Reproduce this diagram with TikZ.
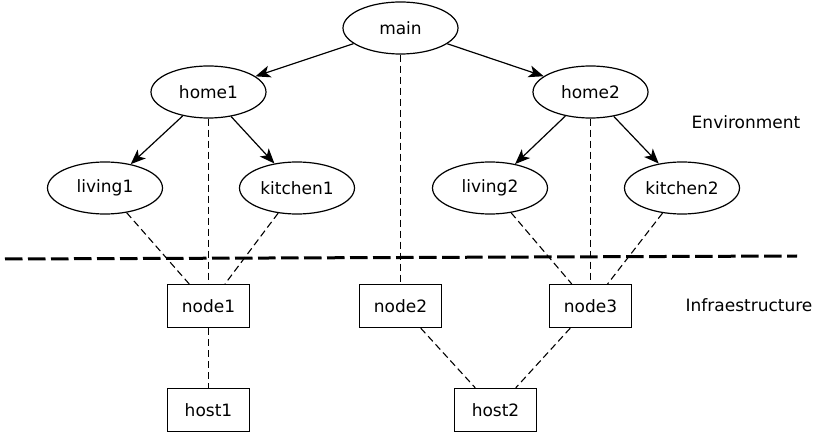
\documentclass[tikz,border=0pt]{standalone}
\usepackage{fontspec}
\setmainfont{DejaVu Sans}
\usetikzlibrary{arrows.meta,shapes.geometric}
\begin{document}
\begin{tikzpicture}[x=1pt,y=-1pt,
  every node/.style={font=\fontsize{17}{20}\selectfont},
  env/.style={draw,ellipse,line width=1.2pt,minimum width=115pt,minimum height=52pt,inner sep=0pt},
  infra/.style={draw,rectangle,line width=1.2pt,minimum width=82pt,minimum height=43pt,inner sep=0pt},
  owns/.style={line width=1.2pt,-{Stealth[length=15pt,width=12pt,inset=4pt]}},
  maps/.style={line width=1.1pt,dash pattern=on 7pt off 4pt},
  layer/.style={line width=3pt,dash pattern=on 17.5pt off 5.5pt}]
\useasboundingbox (0,0) rectangle (818,435);
% environment tree
\node[env] (main) at (400.5,28) {main};
\node[env] (home1) at (208.5,92) {home1};
\node[env] (home2) at (590.5,92) {home2};
\node[env] (living1) at (105,188) {living1};
\node[env] (kitchen1) at (297,188) {kitchen1};
\node[env] (living2) at (490,188) {living2};
\node[env] (kitchen2) at (682,188) {kitchen2};
% infrastructure
\node[infra] (node1) at (208.5,306) {node1};
\node[infra] (node2) at (400.5,306) {node2};
\node[infra] (node3) at (590.5,306) {node3};
\node[infra] (host1) at (208.5,410) {host1};
\node[infra] (host2) at (495.5,410) {host2};
% layer labels
\node (envlabel) at (746,122) {Environment};
\node (infralabel) at (749,305) {Infraestructure};
% layer separator
\coordinate (sepL) at (5,259);
\coordinate (sepR) at (797,256);
\draw[layer] (sepL) -- (sepR);
% containment
\draw[owns] (main) -- (home1);
\draw[owns] (main) -- (home2);
\draw[owns] (home1) -- (living1);
\draw[owns] (home1) -- (kitchen1);
\draw[owns] (home2) -- (living2);
\draw[owns] (home2) -- (kitchen2);
% mappings onto nodes and hosts
\draw[maps] (main) -- (node2);
\draw[maps] (home1) -- (node1);
\draw[maps] (living1) -- (node1);
\draw[maps] (kitchen1) -- (node1);
\draw[maps] (home2) -- (node3);
\draw[maps] (living2) -- (node3);
\draw[maps] (kitchen2) -- (node3);
\draw[maps] (node1) -- (host1);
\draw[maps] (node2) -- (host2);
\draw[maps] (node3) -- (host2);
\end{tikzpicture}
\end{document}
